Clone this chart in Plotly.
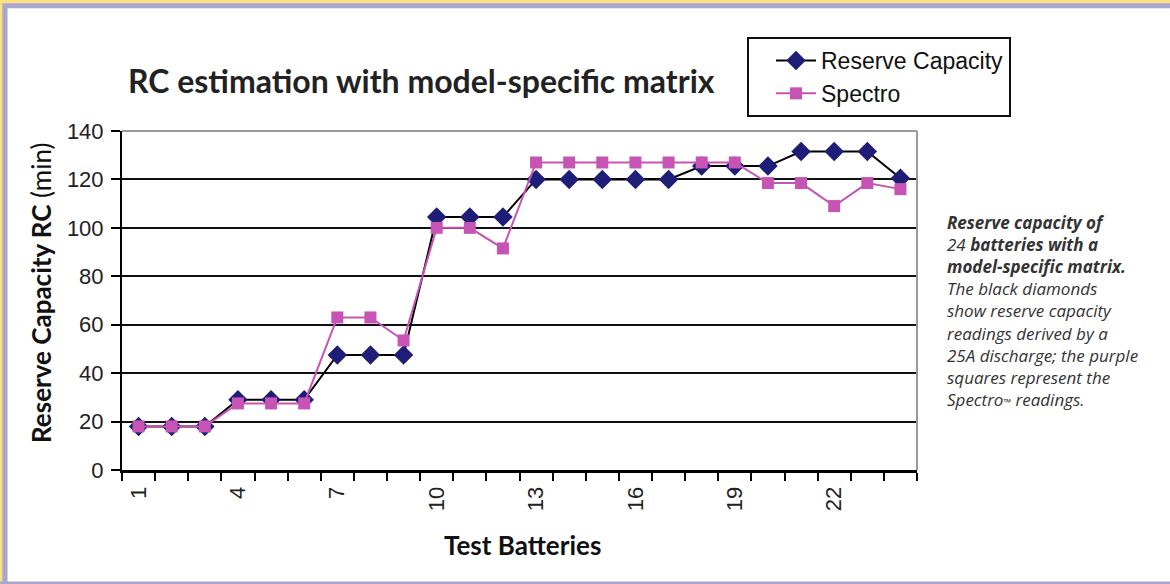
import plotly.graph_objects as go

# ---- data ----
batteries = [1, 2, 3, 4, 5, 6, 7, 8, 9, 10, 11, 12, 13, 14, 15, 16, 17, 18, 19, 20, 21, 22, 23, 24]
reserve_capacity = [18, 18, 18, 29, 29, 29, 47.5, 47.5, 47.5, 104.5, 104.5, 104.5,
                    120, 120, 120, 120, 120, 125.5, 125.5, 125.5, 131.5, 131.5, 131.5, 120.5]
spectro = [18, 18, 18, 27.5, 27.5, 27.5, 63, 63, 53.5, 100, 100, 91.5,
           127, 127, 127, 127, 127, 127, 127, 118.5, 118.5, 109, 118.5, 116]
x_tick_vals = [1, 4, 7, 10, 13, 16, 19, 22]
x_tick_text = ["1", "4", "7", "10", "13", "16", "19", "22"]
y_tick_vals = [0, 20, 40, 60, 80, 100, 120, 140]

# ---- geometry helpers (pixel -> paper) ----
W, H = 1170, 584
L, R, T, B = 122, 917, 131, 470


def px(x):
    return (x - L) / (R - L)


def py(y):
    return (B - y) / (B - T)


fig = go.Figure()
fig.add_trace(go.Scatter(
    x=batteries, y=reserve_capacity, name="Reserve Capacity", mode="lines+markers",
    line=dict(color="#000000", width=2),
    marker=dict(symbol="diamond", size=15, color="#1E1E78"),
))
fig.add_trace(go.Scatter(
    x=batteries, y=spectro, name="Spectro", mode="lines+markers",
    line=dict(color="#C654B4", width=2),
    marker=dict(symbol="square", size=12, color="#C654B4"),
))

YEL = "#FBE17F"
LAV = "#A9A7CF"
shapes = [
    dict(type="rect", xref="paper", yref="paper", layer="below",
         x0=px(0), x1=px(W), y0=py(0), y1=py(8.3), fillcolor=LAV, line=dict(width=0)),
    dict(type="rect", xref="paper", yref="paper", layer="below",
         x0=px(0), x1=px(7.5), y0=py(0), y1=py(H), fillcolor=LAV, line=dict(width=0)),
    dict(type="rect", xref="paper", yref="paper", layer="below",
         x0=px(0), x1=px(W), y0=py(581.5), y1=py(H), fillcolor=LAV, line=dict(width=0)),
    dict(type="rect", xref="paper", yref="paper", layer="below",
         x0=px(0), x1=px(W), y0=py(0), y1=py(3.3), fillcolor=YEL, line=dict(width=0)),
    dict(type="rect", xref="paper", yref="paper", layer="below",
         x0=px(0), x1=px(2.4), y0=py(0), y1=py(581.5), fillcolor=YEL, line=dict(width=0)),
    # plot-area border (gray, top and right)
    dict(type="line", xref="paper", yref="paper", layer="above",
         x0=0, x1=1, y0=1, y1=1, line=dict(color="#9A9A9A", width=2)),
    dict(type="line", xref="paper", yref="paper", layer="above",
         x0=1, x1=1, y0=0, y1=1, line=dict(color="#9A9A9A", width=2)),
]

caption = ("<b><i>Reserve capacity of</i></b><br>"
           "<i>24</i> <b><i>batteries with a</i></b><br>"
           "<b><i>model-specific matrix.</i></b><br>"
           "<i>The black diamonds</i><br>"
           "<i>show reserve capacity</i><br>"
           "<i>readings derived by a</i><br>"
           "<i>25A discharge; the purple</i><br>"
           "<i>squares represent the</i><br>"
           "<i>Spectro<span style='font-size:10px'>™</span> readings.</i>")

annotations = [
    dict(text="<b>RC estimation with model-specific matrix</b>", xref="paper", yref="paper",
         x=px(421), y=py(80), xanchor="center", yanchor="middle", showarrow=False,
         font=dict(family="Lato", size=32, color="#222222")),
    dict(text="<b>Reserve Capacity RC</b> (min)", xref="paper", yref="paper",
         x=px(41), y=py(293), xanchor="center", yanchor="middle", textangle=-90,
         showarrow=False, font=dict(family="Lato", size=26, color="#111111")),
    dict(text="<b>Test Batteries</b>", xref="paper", yref="paper",
         x=px(522), y=py(545), xanchor="center", yanchor="middle",
         showarrow=False, font=dict(family="Lato", size=26, color="#111111")),
    dict(text=caption, xref="paper", yref="paper", x=px(945), y=py(209),
         xanchor="left", yanchor="top", align="left", showarrow=False,
         font=dict(family="Open Sans", size=17, color="#333333")),
]

fig.update_layout(
    width=W, height=H,
    margin=dict(l=L, r=W - R, t=T, b=H - B, pad=0),
    paper_bgcolor="#FFFFFF", plot_bgcolor="#FFFFFF",
    shapes=shapes, annotations=annotations,
    showlegend=True,
    legend=dict(x=px(747), y=py(37), xanchor="left", yanchor="top",
                bgcolor="#FFFFFF", bordercolor="#111111", borderwidth=2,
                font=dict(family="Liberation Sans", size=23, color="#111111"),
                tracegroupgap=0, itemwidth=40, indentation=22),
    xaxis=dict(range=[0.5, 24.5], tickmode="array", tickvals=x_tick_vals, ticktext=x_tick_text,
               tickangle=-90, ticks="", showgrid=False, zeroline=False,
               showline=True, linecolor="#000000", linewidth=3,
               ticklabelstandoff=5,
               tickfont=dict(family="Liberation Sans", size=22, color="#222222"),
               minor=dict(tickmode="array", tickvals=[i + 0.5 for i in range(0, 25)],
                          ticks="outside", ticklen=8, tickwidth=2, tickcolor="#000000",
                          showgrid=False)),
    yaxis=dict(range=[0, 140], tickmode="array", tickvals=y_tick_vals,
               ticks="outside", ticklen=9, tickwidth=2, tickcolor="#000000",
               showgrid=True, gridcolor="#111111", gridwidth=2, zeroline=False,
               showline=True, linecolor="#000000", linewidth=2,
               ticklabelstandoff=3,
               tickfont=dict(family="Liberation Sans", size=22, color="#222222")),
)

fig.write_html("out.html", config={"displayModeBar": False},
               post_script="document.body.style.margin='0';document.body.style.padding='0';")
